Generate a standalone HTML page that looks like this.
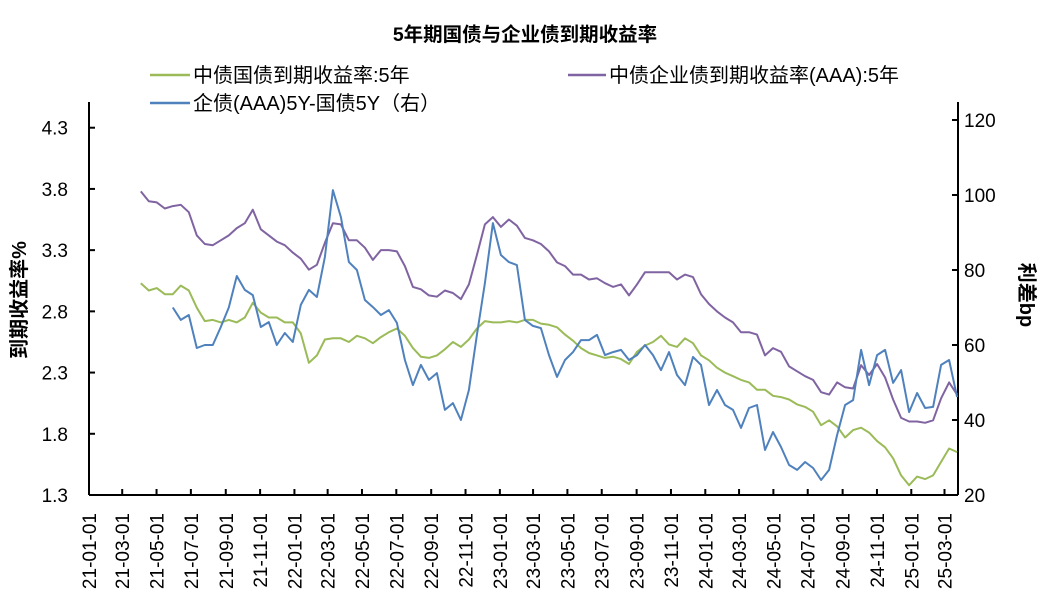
<!DOCTYPE html>
<html><head><meta charset="utf-8">
<style>
body{margin:0;background:#fff;}
svg{display:block;font-family:"Liberation Sans","Noto Sans CJK SC",sans-serif;}
</style></head>
<body>
<svg id="chart" width="1050" height="612" viewBox="0 0 1050 612" xmlns="http://www.w3.org/2000/svg">
<text x="525" y="41" text-anchor="middle" font-size="19.5" font-weight="bold">5年期国债与企业债到期收益率</text>
<g font-size="20">
<g><line x1="150" y1="75" x2="190" y2="75" stroke="#9BBB59" stroke-width="2.5"/><text x="193" y="82">中债国债到期收益率:5年</text></g>
<g><line x1="568" y1="75" x2="606" y2="75" stroke="#8064A2" stroke-width="2.5"/><text x="609" y="82">中债企业债到期收益率(AAA):5年</text></g>
<g><line x1="150" y1="103" x2="190" y2="103" stroke="#4F81BD" stroke-width="2.5"/><text x="193" y="110">企债(AAA)5Y-国债5Y（右）</text></g>
</g>
<text transform="translate(26,300) rotate(-90)" text-anchor="middle" font-size="20" font-weight="bold">到期收益率%</text>
<text transform="translate(1020,295) rotate(90)" text-anchor="middle" font-size="20" font-weight="bold">利差bp</text>
<g id="axes"></g>
<g id="series"></g>
</svg>
<script>
const govtYield = [3.03,2.97,2.99,2.94,2.94,3.01,2.97,2.83,2.72,2.73,2.71,2.73,2.71,2.75,2.87,2.79,2.75,2.75,2.71,2.71,2.62,2.38,2.44,2.57,2.58,2.58,2.55,2.60,2.58,2.54,2.59,2.63,2.66,2.60,2.50,2.43,2.42,2.44,2.49,2.55,2.51,2.57,2.66,2.72,2.71,2.71,2.72,2.71,2.73,2.73,2.70,2.69,2.67,2.61,2.56,2.50,2.46,2.44,2.42,2.43,2.41,2.37,2.47,2.52,2.55,2.60,2.53,2.51,2.58,2.54,2.44,2.40,2.34,2.30,2.27,2.24,2.22,2.16,2.16,2.11,2.10,2.08,2.04,2.02,1.98,1.87,1.91,1.86,1.77,1.83,1.85,1.81,1.74,1.69,1.60,1.46,1.38,1.45,1.43,1.46,1.57,1.68,1.65];
const corpYield = [3.78,3.70,3.69,3.64,3.66,3.67,3.61,3.42,3.35,3.34,3.38,3.42,3.48,3.52,3.63,3.47,3.42,3.37,3.34,3.28,3.23,3.14,3.18,3.36,3.52,3.51,3.38,3.38,3.32,3.22,3.30,3.30,3.29,3.17,3.00,2.98,2.93,2.92,2.97,2.95,2.90,3.02,3.26,3.51,3.57,3.49,3.55,3.50,3.40,3.38,3.35,3.29,3.20,3.17,3.10,3.10,3.06,3.07,3.03,3.00,3.02,2.93,3.02,3.12,3.12,3.12,3.12,3.06,3.10,3.08,2.94,2.86,2.80,2.75,2.71,2.63,2.63,2.61,2.44,2.50,2.47,2.35,2.31,2.27,2.24,2.14,2.12,2.22,2.18,2.17,2.36,2.28,2.37,2.26,2.08,1.93,1.90,1.90,1.89,1.91,2.09,2.22,2.12];
const spreadBp = [null,null,null,null,70,66.7,68,59.2,60,60,64.8,70,78.4,74.7,73.3,64.8,66.1,60,63.2,60.8,70.7,74.7,72.8,83.5,101.3,94.1,82.1,80,72,70.1,68,69.3,65.9,56,49.3,54.7,50.7,52.5,42.7,44.5,40,48,62.7,76.5,92.5,84,82.1,81.3,66.7,65.1,64.5,57.3,51.5,56,58.1,61.3,61.3,62.7,57.3,58.1,58.7,56,57.3,60,57.3,53.3,58.1,52,49.3,56.8,54.7,44,48,44,42.7,37.9,43.2,44,32,36.8,32.8,28,26.7,28.8,27.2,24,26.7,36,44,45.3,58.7,49.3,57.3,58.7,49.9,53.3,42.1,47.2,43.2,43.5,54.7,56,46.1];
const leftTicks = [1.3,1.8,2.3,2.8,3.3,3.8,4.3];
const rightTicks = [20,40,60,80,100,120];
const xTickLabels = ["21-01-01","21-03-01","21-05-01","21-07-01","21-09-01","21-11-01","22-01-01","22-03-01","22-05-01","22-07-01","22-09-01","22-11-01","23-01-01","23-03-01","23-05-01","23-07-01","23-09-01","23-11-01","24-01-01","24-03-01","24-05-01","24-07-01","24-09-01","24-11-01","25-01-01","25-03-01"];
const startDate = "2021-04-03";
const stepDays = 14.22;

const NS="http://www.w3.org/2000/svg";
const X0=89,X1=958,Y0=495,Y1=102;
const D0=Date.UTC(2021,0,1), D1=Date.UTC(2025,2,25);
const DAY=864e5;
const dates = govtYield.map((_,i)=>new Date(Date.parse(startDate)+i*stepDays*DAY));
function xs(d){return X0+(d-D0)/(D1-D0)*(X1-X0);}
function yl(v){return Y0-(v-1.3)/(4.51-1.3)*(Y0-Y1);}
function yr(v){return Y0-(v-20)/(124.8-20)*(Y0-Y1);}
function mk(tag,attrs,parent){const e=document.createElementNS(NS,tag);for(const k in attrs)e.setAttribute(k,attrs[k]);parent.appendChild(e);return e;}
const axes=document.getElementById('axes'), ser=document.getElementById('series');

const la=mk('line',{x1:X0,y1:Y1,x2:X0,y2:Y0,stroke:'#000','stroke-width':2},axes);


const ra=mk('line',{x1:X1,y1:Y1,x2:X1,y2:Y0,stroke:'#000','stroke-width':2},axes);


const xa=mk('line',{x1:X0,y1:Y0,x2:X1,y2:Y0,stroke:'#000','stroke-width':2},axes);



leftTicks.forEach(v=>{
  const y=yl(v);
  mk('line',{x1:X0,y1:y,x2:X0+6,y2:y,stroke:'#000','stroke-width':2},axes);
  const t=mk('text',{x:68,y:y+7,'text-anchor':'end','font-size':19},axes);
  t.textContent=v.toFixed(1);
  
  
});
rightTicks.forEach(v=>{
  const y=yr(v);
  mk('line',{x1:X1-6,y1:y,x2:X1,y2:y,stroke:'#000','stroke-width':2},axes);
  const t=mk('text',{x:964,y:y+7,'text-anchor':'start','font-size':19},axes);
  t.textContent=String(v);
  
  
});
xTickLabels.forEach(s=>{
  const p=s.split('-');
  const d=Date.UTC(2000+ +p[0],+p[1]-1,+p[2]);
  const x=xs(d);
  if(x>X0+2) mk('line',{x1:x,y1:Y0,x2:x,y2:Y0-6,stroke:'#000','stroke-width':2},axes);
  const t=mk('text',{transform:`translate(${x+7},513) rotate(-90)`,'text-anchor':'end','font-size':19},axes);
  t.textContent=s;
  
  
});

function path(vals,yf){
  let d='',pen=false;
  vals.forEach((v,i)=>{
    if(v==null){pen=false;return;}
    d+=(pen?'L':'M')+xs(dates[i].getTime()).toFixed(1)+','+yf(v).toFixed(1);pen=true;
  });
  return d;
}
const g1=mk('path',{d:path(govtYield,yl),fill:'none',stroke:'#9BBB59','stroke-width':2,'stroke-linejoin':'round'},ser);


const g2=mk('path',{d:path(corpYield,yl),fill:'none',stroke:'#8064A2','stroke-width':2,'stroke-linejoin':'round'},ser);


const g3=mk('path',{d:path(spreadBp,yr),fill:'none',stroke:'#4F81BD','stroke-width':2,'stroke-linejoin':'round'},ser);


</script>
</body></html>
